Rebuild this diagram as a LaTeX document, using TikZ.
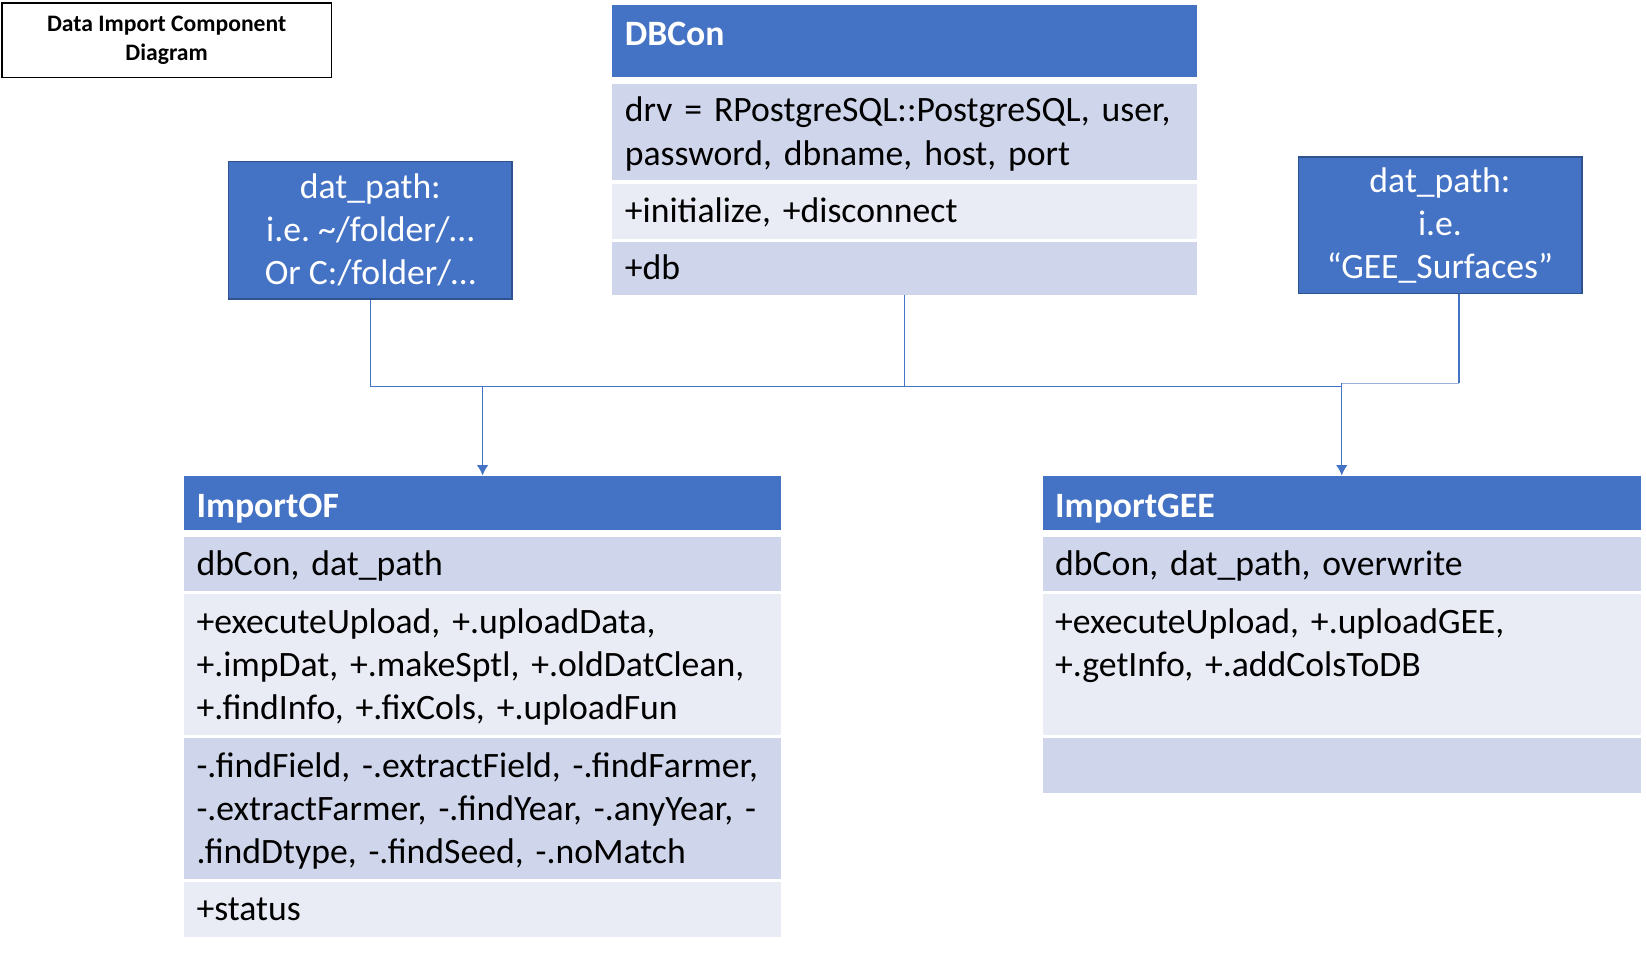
\documentclass[tikz,border=0pt]{standalone}
\usepackage{fontspec}
\setmainfont{Carlito}
\usetikzlibrary{arrows.meta}
\newcommand{\rowstrut}{\rule[-8pt]{0pt}{38pt}}
\newcommand{\headstrut}{\rule[-8pt]{0pt}{44pt}}
\begin{document}
\frenchspacing
\begin{tikzpicture}[x=1pt, y=-1pt,
  umlfont/.style={font=\fontsize{34}{41}\selectfont},
  umlhead/.style={fill=headblue, text=white, font=\fontsize{34}{41}\selectfont\bfseries,
    anchor=north west, inner xsep=12pt, inner ysep=0pt, align=left, text width=#1, minimum height=52pt,
    execute at begin node=\headstrut},
  umlrow/.style={fill=rowdark, umlfont, anchor=north west, inner xsep=12pt, inner ysep=0pt,
    align=left, text width=#1, minimum height=52pt,
    execute at begin node=\rowstrut, execute at end node=\rowstrut},
  umlrowlt/.style={umlrow=#1, fill=rowlight},
  pathbox/.style={fill=headblue, draw=pathborder, line width=1.5pt, text=white, umlfont,
    anchor=north west, align=center, minimum width=270pt, minimum height=131pt, inner sep=0pt},
  conn/.style={draw=headblue, line width=1.2pt},
  connarrow/.style={conn, -{Latex[length=10pt, width=11pt]}}
]
  % Define colors
  \definecolor{headblue}{HTML}{4472C4}
  \definecolor{pathborder}{HTML}{2F528F}
  \definecolor{rowdark}{HTML}{CFD5EA}
  \definecolor{rowlight}{HTML}{E9EBF5}

  \useasboundingbox (0,0) rectangle (1568,907);

  % Title box
  \node[draw=black, line width=1.5pt, anchor=north west, minimum width=314pt, minimum height=71pt,
    align=center, font=\fontsize{22.5}{27}\selectfont\bfseries] (title) at (1,2)
    {Data Import Component\\Diagram};

  % DBCon class
  \node[umlhead=533pt, minimum height=68pt, text depth=28pt] (dbcon) at (583,5) {DBCon};
  \node[umlrow=533pt, minimum height=91pt] (dbconattr) at (583,80)
    {drv = RPostgreSQL::PostgreSQL, user,\\password, dbname, host, port};
  \node[umlrowlt=533pt] (dbconops) at (583,175) {+initialize, +disconnect};
  \node[umlrow=533pt, minimum height=51pt] (dbconfld) at (583,230) {+db};

  % dat_path inputs
  \node[pathbox] (pathof) at (217,153)
    {dat\_path:\\i.e. \textasciitilde/folder/…\\Or C:/folder/…};
  \node[pathbox, minimum height=130pt] (pathgee) at (1236,149)
    {dat\_path:\\i.e.\\“GEE\_Surfaces”};

  % ImportOF class
  \node[umlhead=545pt] (importof) at (175,453) {ImportOF};
  \node[umlrow=545pt] (ofattr) at (175,511) {dbCon, dat\_path};
  \node[umlrowlt=545pt, minimum height=134pt] (ofpub) at (175,566)
    {+executeUpload, +.uploadData,\\+.impDat, +.makeSptl, +.oldDatClean,\\+.findInfo, +.fixCols, +.uploadFun};
  \node[umlrow=545pt, minimum height=134pt] (ofpriv) at (175,703)
    {-.findField, -.extractField, -.findFarmer,\\-.extractFarmer, -.findYear, -.anyYear, -\\.findDtype, -.findSeed, -.noMatch};
  \node[umlrowlt=545pt] (ofstat) at (175,840) {+status};

  % ImportGEE class
  \node[umlhead=546pt] (importgee) at (993,453) {ImportGEE};
  \node[umlrow=546pt] (geeattr) at (993,511) {dbCon, dat\_path, overwrite};
  \node[umlrowlt=546pt, minimum height=134pt] (geepub) at (993,566)
    {+executeUpload, +.uploadGEE,\\+.getInfo, +.addColsToDB\\\mbox{}};
  \node[umlrow=546pt] (geeemp) at (993,703) {};

  % Connectors
  \coordinate (bus) at (0,368);
  \coordinate (busgee) at (0,365);
  \coordinate (geedrop) at ([xshift=18pt]pathgee.south);
  \draw[conn] (pathof.south) -- (pathof.south |- bus) -- (importgee.north |- bus);
  \draw[conn] (dbconfld.south) -- (dbconfld.south |- bus);
  \draw[conn] (geedrop) -- (geedrop |- busgee);
  \draw[conn, draw=headblue!55] (geedrop |- busgee) -- (importgee.north |- busgee);
  \draw[connarrow] (importof.north |- bus) -- (importof.north);
  \draw[connarrow] (importgee.north |- busgee) -- (importgee.north);
\end{tikzpicture}
\end{document}
